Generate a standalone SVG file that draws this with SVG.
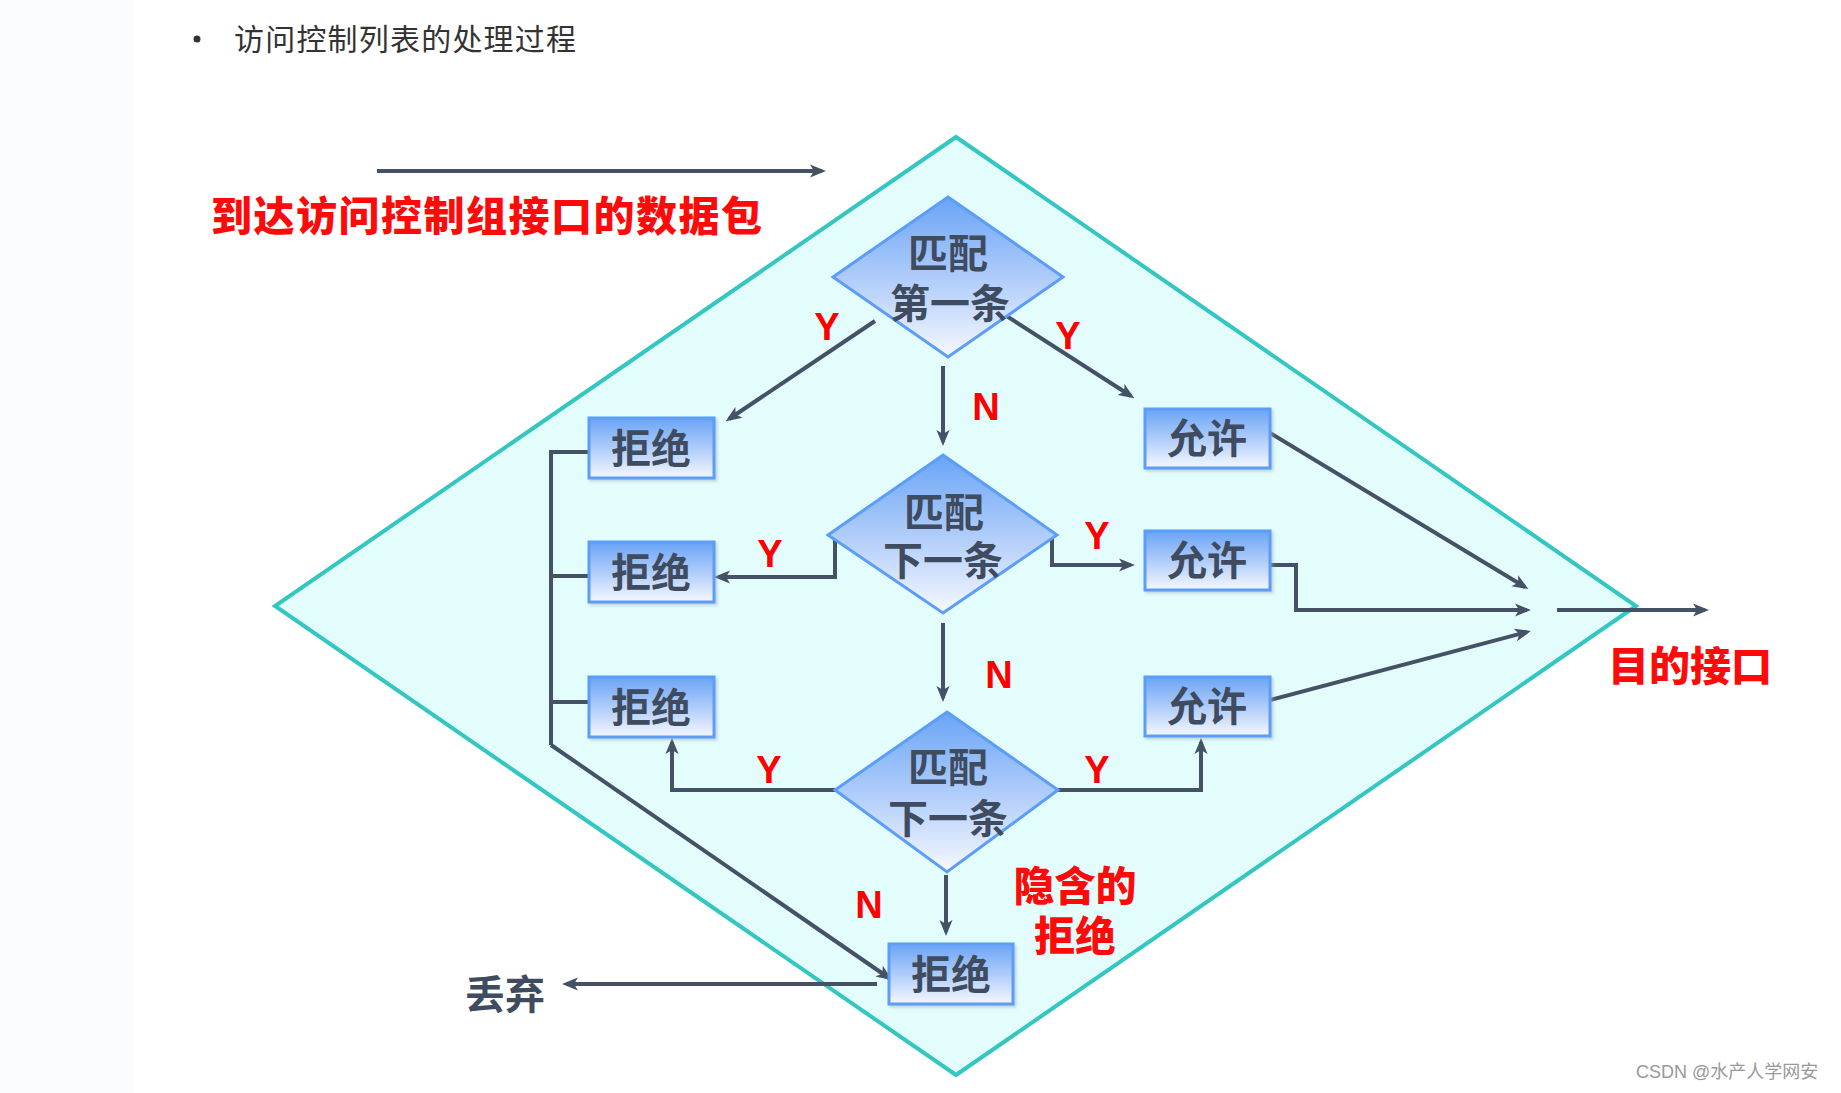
<svg xmlns="http://www.w3.org/2000/svg" width="1841" height="1093" viewBox="0 0 1841 1093">
<defs>
<linearGradient id="ng" x1="0" y1="0" x2="0" y2="1">
<stop offset="0" stop-color="#6aa4f6"/>
<stop offset="0.55" stop-color="#b5d0fa"/>
<stop offset="1" stop-color="#f6f8ff"/>
</linearGradient>
<marker id="ah" markerUnits="userSpaceOnUse" markerWidth="18" markerHeight="16" refX="12" refY="8" orient="auto">
<path d="M0,1.5 L16,8 L0,14.5 L4,8 Z" fill="#455165"/>
</marker>
<filter id="sh" x="-10%" y="-10%" width="130%" height="130%">
<feDropShadow dx="2" dy="2" stdDeviation="1.5" flood-color="#9aa8b8" flood-opacity="0.5"/>
</filter>
</defs>
<style>
.node rect, .node polygon { fill: url(#ng); stroke: #5b9df7; stroke-width: 3; }
.nt { font-family: "Noto Sans CJK SC", "Noto Sans", sans-serif; font-weight: 700; font-size: 40px; fill: #3f4b5f; text-anchor: middle; }
.lbl { font-family: "Liberation Sans", Arial, sans-serif; font-weight: 700; font-size: 38px; fill: #ff0000; text-anchor: middle; }
.red { font-family: "Noto Sans CJK SC", "Noto Sans", sans-serif; font-weight: 900; font-size: 41px; fill: #ff0a0a; }
.conn path { fill: none; stroke: #455165; stroke-width: 4; }
.arr { marker-end: url(#ah); }
</style>
<rect x="0" y="0" width="1841" height="1093" fill="#ffffff"/>
<rect x="0" y="0" width="133" height="1093" fill="#fbfcfe"/>
<circle cx="197" cy="39" r="3.5" fill="#333333"/>
<text x="234" y="50" font-family="Noto Sans CJK SC, sans-serif" font-size="30" letter-spacing="1.2" fill="#333333">访问控制列表的处理过程</text>

<g id="boundary">
<polygon points="956,137 1636,606 956,1075 275,606" fill="#e3fdfd" stroke="#34c6c1" stroke-width="4" stroke-linejoin="miter"/>
</g>

<text class="red" x="211" y="231" letter-spacing="1.5">到达访问控制组接口的数据包</text>

<g class="conn">
<path class="arr" d="M377,171 H822"/>
<path class="arr" d="M875,321 L729,419"/>
<path class="arr" d="M1002,313 L1131,396"/>
<path class="arr" d="M943,366 V442"/>
<path class="arr" d="M835,538 V577 H718"/>
<path class="arr" d="M1052,538 V565 H1131"/>
<path class="arr" d="M943,623 V698"/>
<path class="arr" d="M835,790 H672 V742"/>
<path class="arr" d="M1058,790 H1201 V742"/>
<path class="arr" d="M946,875 V932"/>
<path class="arr" d="M1270,433 L1525,587"/>
<path class="arr" d="M1270,565 H1296 V610 H1527"/>
<path class="arr" d="M1270,700 L1527,632"/>
<path class="arr" d="M1557,610 H1705"/>
<path d="M589,452 H551 V745"/>
<path d="M551,576 H589"/>
<path d="M551,702 H589"/>
<path class="arr" d="M551,745 L889,978"/>
<path class="arr" d="M877,984 H566"/>
</g>

<g id="d1" class="node"><polygon points="948,197 1063,277 948,357 833,277"/><text class="nt" x="948" y="268">匹配</text><text class="nt" x="950" y="318">第一条</text></g>
<g id="d2" class="node"><polygon points="943,455 1057,535 943,613 828,535"/><text class="nt" x="944" y="527">匹配</text><text class="nt" x="943" y="575">下一条</text></g>
<g id="d3" class="node"><polygon points="947,712 1058,790 947,872 835,790"/><text class="nt" x="948" y="782">匹配</text><text class="nt" x="948" y="833">下一条</text></g>

<g id="r1" class="node"><rect x="589" y="418" width="125" height="60" filter="url(#sh)"/><text class="nt" x="651" y="463">拒绝</text></g>
<g id="r2" class="node"><rect x="589" y="542" width="125" height="60" filter="url(#sh)"/><text class="nt" x="651" y="587">拒绝</text></g>
<g id="r3" class="node"><rect x="589" y="677" width="125" height="60" filter="url(#sh)"/><text class="nt" x="651" y="722">拒绝</text></g>
<g id="r4" class="node"><rect x="889" y="944" width="124" height="60" filter="url(#sh)"/><text class="nt" x="951" y="989">拒绝</text></g>
<g id="a1" class="node"><rect x="1145" y="409" width="125" height="59" filter="url(#sh)"/><text class="nt" x="1207" y="453">允许</text></g>
<g id="a2" class="node"><rect x="1145" y="531" width="125" height="59" filter="url(#sh)"/><text class="nt" x="1207" y="575">允许</text></g>
<g id="a3" class="node"><rect x="1145" y="677" width="125" height="59" filter="url(#sh)"/><text class="nt" x="1207" y="721">允许</text></g>

<g id="labels">
<text class="lbl" x="827" y="340">Y</text>
<text class="lbl" x="1068" y="349">Y</text>
<text class="lbl" x="986" y="420">N</text>
<text class="lbl" x="770" y="567">Y</text>
<text class="lbl" x="1097" y="549">Y</text>
<text class="lbl" x="999" y="688">N</text>
<text class="lbl" x="769" y="783">Y</text>
<text class="lbl" x="1097" y="783">Y</text>
<text class="lbl" x="869" y="918">N</text>
</g>

<text class="red" x="1075" y="901" text-anchor="middle">隐含的</text>
<text class="red" x="1075" y="951" text-anchor="middle">拒绝</text>
<text class="red" x="1608" y="681">目的接口</text>
<text class="nt" x="505" y="1009" font-size="41">丢弃</text>
<text x="1636" y="1078" font-family="Liberation Sans, Noto Sans CJK SC, sans-serif" font-size="18" fill="#999999">CSDN @水产人学网安</text>
</svg>
